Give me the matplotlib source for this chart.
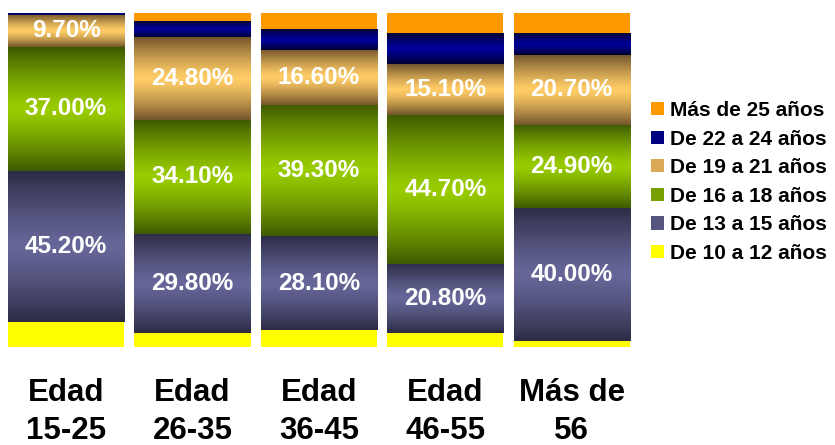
import matplotlib
matplotlib.use("Agg")
import matplotlib.pyplot as plt
import numpy as np
from matplotlib.colors import LinearSegmentedColormap
from matplotlib.patches import Patch

plt.rcParams["font.family"] = ["Liberation Sans", "DejaVu Sans"]

groups = ["Edad\n15-25", "Edad\n26-35", "Edad\n36-45", "Edad\n46-55", "Más de\n56"]
series_names = ["De 10 a 12 años", "De 13 a 15 años", "De 16 a 18 años",
                "De 19 a 21 años", "De 22 a 24 años", "Más de 25 años"]
p10_12 = [7.6, 4.1, 5.0, 4.1, 1.7]
p13_15 = [45.2, 29.8, 28.1, 20.8, 40.0]
p16_18 = [37.0, 34.1, 39.3, 44.7, 24.9]
p19_21 = [9.7, 24.8, 16.6, 15.1, 20.7]
p22_24 = [0.5, 4.5, 6.0, 9.0, 6.4]
p25_up = [0.0, 2.7, 5.0, 6.3, 6.3]
series = [p10_12, p13_15, p16_18, p19_21, p22_24, p25_up]
labelled = [False, True, True, True, False, False]

# (centre colour, edge colour); None edge means flat fill
styles = [
    ("#ffff00", None),
    ("#666699", "#2c2c45"),
    ("#99cc00", "#3f5a00"),
    ("#ffcc66", "#74562c"),
    ("#000099", "#000030"),
    ("#ff9900", None),
]
legend_colors = ["#ffff00", "#55557f", "#77a000", "#d9a955", "#000080", "#ff9900"]

fig = plt.figure(figsize=(8.35, 4.45), dpi=100)
ax = fig.add_axes([0.0034, 0.2202, 0.757, 0.7506])

x = np.arange(len(groups))
width = 0.92
bottom = np.zeros(len(groups))
grad = np.abs(np.linspace(-1, 1, 200)).reshape(-1, 1) ** 1.3

for vals, (centre, edge), lab in zip(series, styles, labelled):
    vals = np.array(vals)
    bars = ax.bar(x, vals, width, bottom=bottom, color=centre, linewidth=0)
    if edge is not None:
        cmap = LinearSegmentedColormap.from_list("g", [centre, edge])
        for b in bars:
            if b.get_height() <= 0:
                continue
            ax.imshow(grad, cmap=cmap, vmin=0, vmax=1, aspect="auto",
                      origin="lower", interpolation="bilinear",
                      extent=(b.get_x(), b.get_x() + b.get_width(),
                              b.get_y(), b.get_y() + b.get_height()),
                      zorder=2)
    if lab:
        for xi, v, b0 in zip(x, vals, bottom):
            ax.text(xi, b0 + v / 2, f"{v:.2f}%", ha="center", va="center",
                    color="white", fontsize=17.5, fontweight="bold", zorder=3)
    bottom += vals

ax.set_xlim(-0.5, len(groups) - 0.5)
ax.set_ylim(0, 100)
ax.set_yticks([])
ax.set_xticks(x, groups, fontsize=22.5, fontweight="bold", linespacing=1.35)
ax.tick_params(axis="x", length=0, pad=22)
for s in ax.spines.values():
    s.set_visible(False)

handles = [Patch(facecolor=c, edgecolor="none") for c in legend_colors]
fig.legend(handles[::-1], series_names[::-1], loc="center left",
           bbox_to_anchor=(651 / 835, 1 - 182 / 445), frameon=False,
           prop={"weight": "bold", "size": 15}, labelspacing=0.46,
           handlelength=0.6, handleheight=0.6, handletextpad=0.33,
           borderpad=0, borderaxespad=0)

fig.savefig("out.png", dpi=100)
plt.close(fig)
